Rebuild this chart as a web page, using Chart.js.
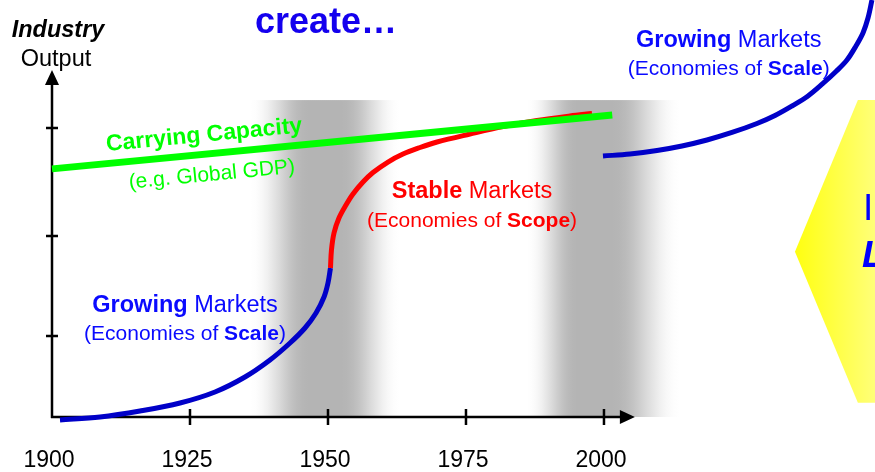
<!DOCTYPE html>
<html>
<head>
<meta charset="utf-8">
<title>Industry Output</title>
<script src="https://cdn.jsdelivr.net/npm/chart.js@4.4.1/dist/chart.umd.min.js"></script>
<style>
  html, body { margin: 0; padding: 0; background: #fff; }
  #wrap { width: 875px; height: 472px; }
</style>
</head>
<body>
<div id="wrap"><canvas id="curves" width="875" height="472"></canvas></div>
<script>
// x = year, y = industry output (arbitrary units 0-100)
const tickYears = [1900, 1925, 1950, 1975, 2000];
const outputTicks = [19.4, 43.4, 69.3];

// first growth phase, up to 1950
const growthYears  = [1901.45, 1908.7, 1915.94, 1923.19, 1929.53, 1934.96, 1939.49, 1943.12, 1945.83, 1947.83, 1949.28, 1950.0, 1950.45];
const growthOutput = [-0.72, 0.0, 1.44, 3.36, 6.0, 9.59, 13.67, 17.75, 21.34, 24.94, 28.78, 32.13, 35.73];

// stable phase after 1950
const stableYears  = [1950.45, 1950.63, 1951.09, 1951.99, 1953.26, 1954.53, 1956.34, 1958.15, 1960.87, 1963.59, 1966.67, 1969.75, 1975.72, 1981.7, 1987.86, 1993.84, 1997.83];
const stableOutput = [35.73, 40.05, 44.12, 47.72, 50.84, 53.48, 56.35, 58.63, 61.15, 63.07, 64.63, 65.95, 67.87, 69.66, 71.1, 72.18, 72.78];

// carrying capacity line
const capacityYears  = [1900, 2001.5];
const capacityOutput = [59.5, 72.4];

// next growth phase from 2000
const nextYears  = [1999.82, 2004.71, 2009.6, 2014.13, 2018.66, 2023.19, 2027.72, 2030.98, 2034.06, 2036.96, 2039.67, 2042.03, 2044.02, 2045.65, 2046.92, 2047.83, 2048.55];
const nextOutput = [62.59, 63.07, 63.91, 64.99, 66.43, 68.23, 70.38, 72.3, 74.58, 76.98, 79.98, 82.85, 85.61, 88.97, 92.09, 95.68, 100];

// gray transition bands
const bandFrom = [1935.9, 1986.0];
const bandTo   = [1963.0, 2013.8];
const bandPeak = [[0.39, 0.61], [0.33, 0.56]];
const bandTop  = 76;

// where the axis arrows end
const axisEndYear = 2005.6;
const axisEndOutput = 83.2;

const FONT = '"Liberation Sans", Arial, sans-serif';

const toPoints = (xs, ys) => xs.map((v, i) => ({ x: v, y: ys[i] }));

// one line of text with bold / regular pieces, centred on cx
function richLine(ctx, parts, cx, y, size, color) {
    let total = 0;
    const widths = parts.map(([t, b]) => {
        ctx.font = (b ? 'bold ' : '') + size + 'px ' + FONT;
        const w = ctx.measureText(t).width;
        total += w;
        return w;
    });
    let x = cx - total / 2;
    ctx.fillStyle = color;
    ctx.textAlign = 'left';
    ctx.textBaseline = 'alphabetic';
    parts.forEach(([t, b], i) => {
        ctx.font = (b ? 'bold ' : '') + size + 'px ' + FONT;
        ctx.fillText(t, x, y);
        x += widths[i];
    });
}

// white -> gray -> white with soft shoulders
function bandGradient(ctx, x0, x1, peak) {
    const g = ctx.createLinearGradient(x0, 0, x1, 0);
    const shade = t => {
        const c = Math.round(255 - (255 - 180) * (0.5 - 0.5 * Math.cos(Math.PI * t)));
        return `rgb(${c},${c},${c})`;
    };
    for (let k = 0; k <= 10; k++) {
        g.addColorStop(peak[0] * k / 10, shade(k / 10));
        g.addColorStop(peak[1] + (1 - peak[1]) * k / 10, shade(1 - k / 10));
    }
    return g;
}

const decorations = {
    id: 'decorations',
    beforeDatasetsDraw(chart) {
        const { ctx, scales: { x, y } } = chart;
        ctx.save();

        // shaded bands behind the curves
        bandFrom.forEach((from, i) => {
            const x0 = x.getPixelForValue(from);
            const x1 = x.getPixelForValue(bandTo[i]);
            const top = y.getPixelForValue(bandTop);
            const bottom = y.getPixelForValue(0);
            ctx.fillStyle = bandGradient(ctx, x0, x1, bandPeak[i]);
            ctx.fillRect(x0, top, x1 - x0, bottom - top);
        });

        // yellow panel on the right edge
        const p = [[2034.6, 39.6], [2046.0, 76.0], [2049.1, 76.0], [2049.1, 3.4], [2046.0, 3.4]]
            .map(([a, b]) => [x.getPixelForValue(a), y.getPixelForValue(b)]);
        const yg = ctx.createLinearGradient(p[0][0], 0, p[2][0], 0);
        yg.addColorStop(0, '#ffff10');
        yg.addColorStop(1, '#ffff78');
        ctx.fillStyle = yg;
        ctx.beginPath();
        ctx.moveTo(p[0][0], p[0][1]);
        p.slice(1).forEach(([a, b]) => ctx.lineTo(a, b));
        ctx.closePath();
        ctx.fill();

        // axes with arrow heads
        const ox = x.getPixelForValue(1900), oy = y.getPixelForValue(0);
        const xEnd = x.getPixelForValue(axisEndYear), yEnd = y.getPixelForValue(axisEndOutput);
        ctx.strokeStyle = '#000';
        ctx.fillStyle = '#000';
        ctx.lineWidth = 2.5;
        ctx.beginPath();
        ctx.moveTo(ox, oy + 1);
        ctx.lineTo(ox, yEnd + 14);
        ctx.moveTo(ox - 1, oy);
        ctx.lineTo(xEnd - 14, oy);
        ctx.stroke();
        ctx.beginPath();
        ctx.moveTo(ox, yEnd);
        ctx.lineTo(ox - 7, yEnd + 15);
        ctx.lineTo(ox + 7, yEnd + 15);
        ctx.closePath();
        ctx.fill();
        ctx.beginPath();
        ctx.moveTo(xEnd, oy);
        ctx.lineTo(xEnd - 15, oy - 7);
        ctx.lineTo(xEnd - 15, oy + 7);
        ctx.closePath();
        ctx.fill();

        // tick marks
        ctx.beginPath();
        tickYears.slice(1).forEach(yr => {
            const tx = x.getPixelForValue(yr);
            ctx.moveTo(tx, oy - 8);
            ctx.lineTo(tx, oy + 8);
        });
        outputTicks.forEach(v => {
            const ty = y.getPixelForValue(v);
            ctx.moveTo(ox - 6, ty);
            ctx.lineTo(ox + 6, ty);
        });
        ctx.stroke();

        // year labels
        ctx.font = '23px ' + FONT;
        ctx.textAlign = 'center';
        ctx.textBaseline = 'alphabetic';
        tickYears.forEach(yr => ctx.fillText(String(yr), x.getPixelForValue(yr) - 3, oy + 50));

        ctx.restore();
    },
    afterDatasetsDraw(chart) {
        const { ctx, scales: { x, y } } = chart;
        ctx.save();
        const blue = '#0a0aff';

        // heading and axis title
        richLine(ctx, [['create\u2026', true]], 326, 33, 36, '#1400ee');
        ctx.fillStyle = '#000';
        ctx.textAlign = 'center';
        ctx.font = 'italic bold 23.5px ' + FONT;
        ctx.fillText('Industry', 58, 37);
        ctx.font = '23.5px ' + FONT;
        ctx.fillText('Output', 56, 66);

        // phase labels
        const label = (yr, v1, v2, l1, l2, color) => {
            const cx = x.getPixelForValue(yr);
            richLine(ctx, l1, cx, y.getPixelForValue(v1), 23.5, color);
            richLine(ctx, l2, cx, y.getPixelForValue(v2), 21, color);
        };
        label(1924.1, 25.2, 18.5, [['Growing', true], [' Markets', false]],
            [['(Economies of ', false], ['Scale', true], [')', false]], blue);
        label(1976.1, 52.5, 45.6, [['Stable', true], [' Markets', false]],
            [['(Economies of ', false], ['Scope', true], [')', false]], '#ff0000');
        label(2022.6, 88.7, 82.0, [['Growing', true], [' Markets', false]],
            [['(Economies of ', false], ['Scale', true], [')', false]], blue);

        // carrying capacity text, tilted along the green line
        const gx0 = x.getPixelForValue(capacityYears[0]), gy0 = y.getPixelForValue(capacityOutput[0]);
        const gx1 = x.getPixelForValue(capacityYears[1]), gy1 = y.getPixelForValue(capacityOutput[1]);
        const angle = Math.atan2(gy1 - gy0, gx1 - gx0);
        const onLine = px => [px, gy0 + (px - gx0) * Math.tan(angle)];
        ctx.fillStyle = '#00ff00';
        ctx.textAlign = 'center';
        let [ax, ay] = onLine(x.getPixelForValue(1927.9));
        ctx.save();
        ctx.translate(ax, ay);
        ctx.rotate(angle);
        ctx.font = 'bold 23px ' + FONT;
        ctx.fillText('Carrying Capacity', 0, -12.5);
        ctx.restore();
        [ax, ay] = onLine(x.getPixelForValue(1928.6));
        ctx.save();
        ctx.translate(ax, ay);
        ctx.rotate(angle);
        ctx.font = '21px ' + FONT;
        ctx.fillText('(e.g. Global GDP)', 0, 27);
        ctx.restore();

        // text cut off at the right edge
        ctx.fillStyle = '#0000ff';
        ctx.textAlign = 'left';
        ctx.font = '37px ' + FONT;
        ctx.fillText('I', 863, 220);
        ctx.font = 'italic bold 37px ' + FONT;
        ctx.fillText('L', 862, 267);

        ctx.restore();
    }
};

const ctx = document.getElementById('curves').getContext('2d');

new Chart(ctx, {
    type: 'line',
    data: {
        datasets: [
            {
                label: 'Carrying Capacity',
                data: toPoints(capacityYears, capacityOutput),
                borderColor: '#00ff00',
                borderWidth: 7
            },
            {
                label: 'Stable Markets',
                data: toPoints(stableYears, stableOutput),
                borderColor: '#ff0000',
                borderWidth: 5
            },
            {
                label: 'Growing Markets',
                data: toPoints(growthYears, growthOutput),
                borderColor: '#0000c8',
                borderWidth: 5
            },
            {
                label: 'Growing Markets (after 2000)',
                data: toPoints(nextYears, nextOutput),
                borderColor: '#0000c8',
                borderWidth: 5
            }
        ]
    },
    options: {
        responsive: false,
        animation: false,
        devicePixelRatio: 1,
        layout: { padding: { left: 52, right: 0, top: 0, bottom: 55 } },
        datasets: {
            line: {
                clip: false,
                pointRadius: 0,
                tension: 0.35,
                borderCapStyle: 'butt',
                borderJoinStyle: 'round',
                fill: false
            }
        },
        scales: {
            x: { type: 'linear', min: 1900, max: 2049.1, display: false },
            y: { type: 'linear', min: 0, max: 100, display: false }
        },
        plugins: {
            legend: { display: false },
            tooltip: { enabled: false }
        }
    },
    plugins: [decorations]
});
</script>
</body>
</html>
